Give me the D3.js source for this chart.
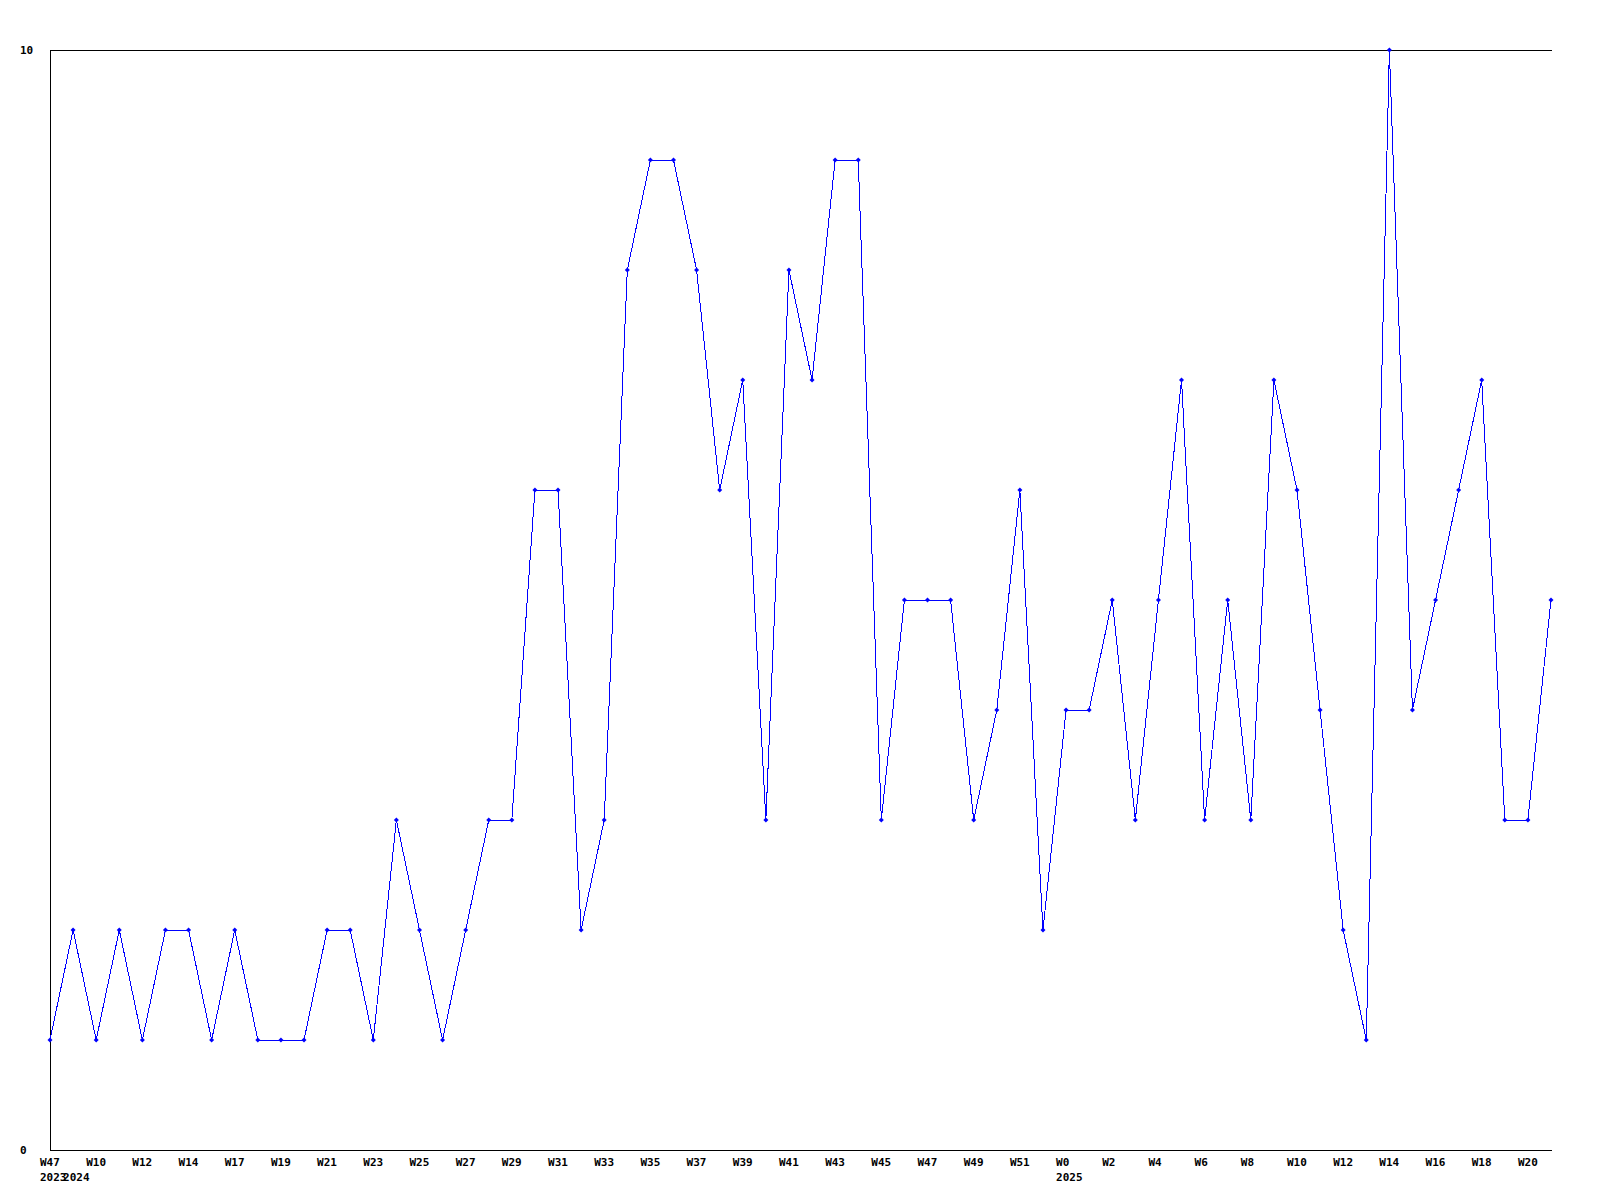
<!DOCTYPE html>
<html>
<head>
<meta charset="utf-8">
<script src="https://cdn.jsdelivr.net/npm/d3@7"></script>
<style>
  html, body { margin: 0; padding: 0; background: #fff; }
  svg { display: block; }
  text { font-family: "DejaVu Sans Mono", "Liberation Mono", monospace; font-weight: bold; font-size: 11px; fill: #000; }
</style>
</head>
<body>
<svg id="chart" width="1600" height="1200"></svg>
<script>
// ---- data ----
const weeks = [
  "W47","W9","W10","W11","W12","W13","W14","W16","W17","W18",
  "W19","W20","W21","W22","W23","W24","W25","W26","W27","W28",
  "W29","W30","W31","W32","W33","W34","W35","W36","W37","W38",
  "W39","W40","W41","W42","W43","W44","W45","W46","W47","W48",
  "W49","W50","W51","W52","W0","W1","W2","W3","W4","W5",
  "W6","W7","W8","W9","W10","W11","W12","W13","W14","W15",
  "W16","W17","W18","W19","W20","W21"
];
const values = [
  1,2,1,2,1,2,2,1,2,1,
  1,1,2,2,1,3,2,1,2,3,
  3,6,6,2,3,8,9,9,8,6,
  7,3,8,7,9,9,3,5,5,5,
  3,4,6,2,4,4,5,3,5,7,
  3,5,3,7,6,4,2,1,10,4,
  5,6,7,3,3,5
];
const yearIndex = [0, 1, 44];
const yearLabels = ["2023", "2024", "2025"];
const yTicks = [0, 10];
const labelEvery = 2;

// ---- drawing ----
const svg = d3.select("#chart");
const mLeft = 50, mRight = 1551, mTop = 50, mBottom = 1150;

const x = d3.scalePoint().domain(d3.range(values.length)).range([mLeft, mRight]);
const y = d3.scaleLinear().domain([0, 10]).range([mBottom, mTop]);

// frame: top, left, bottom
const frame = svg.append("g").attr("shape-rendering", "crispEdges")
  .attr("stroke", "#000").attr("stroke-width", 1);
frame.append("line").attr("x1", mLeft).attr("x2", mRight + 1).attr("y1", y(10) + 0.5).attr("y2", y(10) + 0.5);
frame.append("line").attr("x1", mLeft).attr("x2", mRight + 1).attr("y1", y(0) + 0.5).attr("y2", y(0) + 0.5);
frame.append("line").attr("x1", mLeft + 0.5).attr("x2", mLeft + 0.5).attr("y1", y(10)).attr("y2", y(0) + 1);

// y labels
svg.append("g").selectAll("text").data(yTicks).join("text")
  .attr("x", 20).attr("y", d => y(d)).attr("dy", "0.35em")
  .text(d => d);

// x labels
svg.append("g").selectAll("text")
  .data(weeks.map((w, i) => ({w, i})).filter(d => d.i % labelEvery === 0))
  .join("text")
  .attr("x", d => x(d.i) - 10).attr("y", mBottom + 12).attr("dy", "0.35em")
  .text(d => d.w);

svg.append("g").selectAll("text")
  .data(yearIndex.map((idx, k) => ({idx, label: yearLabels[k]})))
  .join("text")
  .attr("x", d => x(d.idx) - 10).attr("y", mBottom + 27).attr("dy", "0.35em")
  .text(d => d.label);

// line
const line = d3.line().x((d, i) => x(i)).y(d => y(d));
svg.append("path").datum(values)
  .attr("d", line)
  .attr("fill", "none").attr("stroke", "#0000ff").attr("stroke-width", 1)
  .attr("shape-rendering", "crispEdges");

// markers
svg.append("g").selectAll("path").data(values).join("path")
  .attr("transform", (d, i) => `translate(${x(i)},${y(d)})`)
  .attr("d", "M0,-2.5L2.5,0L0,2.5L-2.5,0Z")
  .attr("fill", "#0000ff");
</script>
</body>
</html>
